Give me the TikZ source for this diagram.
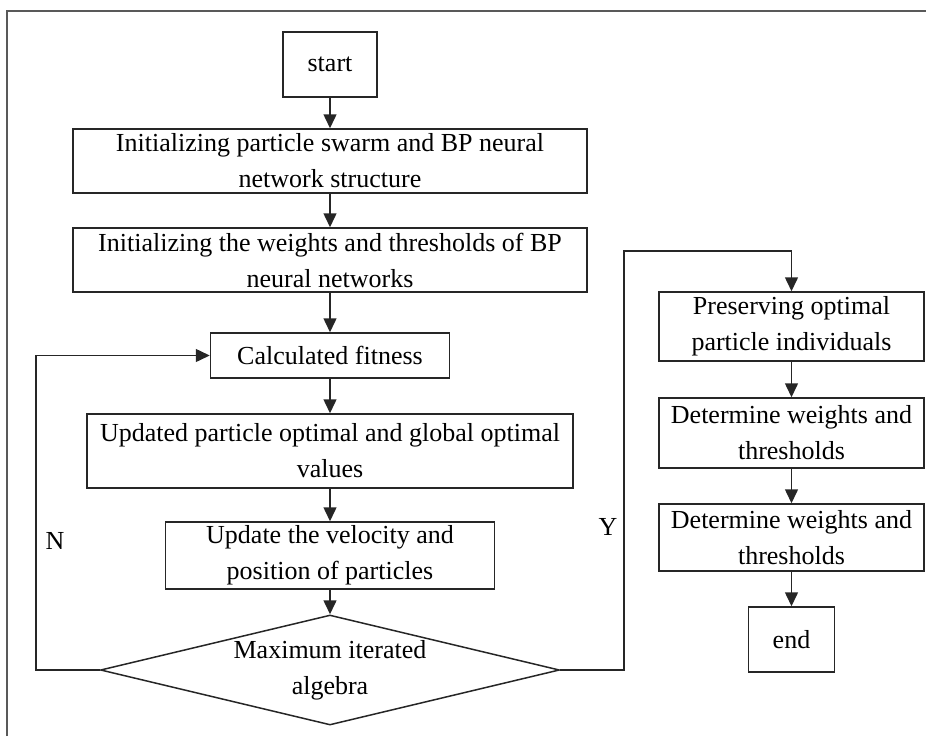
\documentclass[tikz,border=0pt]{standalone}
\usepackage{fontspec}
\setmainfont{Liberation Serif}
\usetikzlibrary{positioning, shapes.geometric, arrows.meta}

\begin{document}
\begin{tikzpicture}[x=1pt, y=-1pt,
    txt/.style={font=\fontsize{26}{36}\selectfont},
    box/.style={txt, draw=black!85, line width=1.5pt, inner sep=0pt, align=center},
    decision/.style={txt, diamond, draw=black!85, line width=1.5pt, inner sep=0pt,
        aspect=4.17, minimum width=459pt, minimum height=110pt, align=center},
    flow/.style={draw=black!85, line width=1.5pt, -{Triangle[length=14pt, width=13pt]}}]
            \useasboundingbox (0,0) rectangle (926,736);
            \draw[black!65, line width=2pt] (7,736) -- (7,11) -- (926,11);

            \node[box, minimum width=94pt, minimum height=65pt] (start) at (330,64.5) {start};
            \node[box, minimum width=514pt, minimum height=64pt] (init1) at (330,161)
                {Initializing particle swarm and BP neural\\network structure};
            \node[box, minimum width=514pt, minimum height=64pt] (init2) at (330,260)
                {Initializing the weights and thresholds of BP\\neural networks};
            \node[box, minimum width=239pt, minimum height=45pt] (fit) at (330,355.5) {Calculated fitness};
            \node[box, minimum width=486pt, minimum height=74pt] (upd) at (330,451)
                {Updated particle optimal and global optimal\\values};
            \node[box, minimum width=329pt, minimum height=67pt] (vel) at (330,555.5)
                {Update the velocity and\\position of particles};
            \node[decision] (dec) at (330,670) {Maximum iterated\\algebra};

            \node[box, minimum width=265pt, minimum height=69pt] (pres) at (791.5,326.5)
                {Preserving optimal\\particle individuals};
            \node[box, minimum width=265pt, minimum height=70pt] (det1) at (791.5,433)
                {Determine weights and\\thresholds};
            \node[box, minimum width=265pt, minimum height=67pt] (det2) at (791.5,537.5)
                {Determine weights and\\thresholds};
            \node[box, minimum width=86pt, minimum height=65pt] (end) at (791.5,639.5) {end};

            \node[txt] (nlab) at (55,541) {N};
            \node[txt] (ylab) at (608,527) {Y};

            \coordinate (nturn) at (36,355.5);
            \coordinate (yturn) at (624,251);

            \draw[flow] (start) -- (init1);
            \draw[flow] (init1) -- (init2);
            \draw[flow] (init2) -- (fit);
            \draw[flow] (fit) -- (upd);
            \draw[flow] (upd) -- (vel);
            \draw[flow] (vel) -- (dec);
            \draw[flow] (dec.west) -| (nturn) -- (fit.west);
            \draw[flow] (dec.east) -| (yturn) -| (pres.north);
            \draw[flow] (pres) -- (det1);
            \draw[flow] (det1) -- (det2);
            \draw[flow] (det2) -- (end);
        \end{tikzpicture}
\end{document}
